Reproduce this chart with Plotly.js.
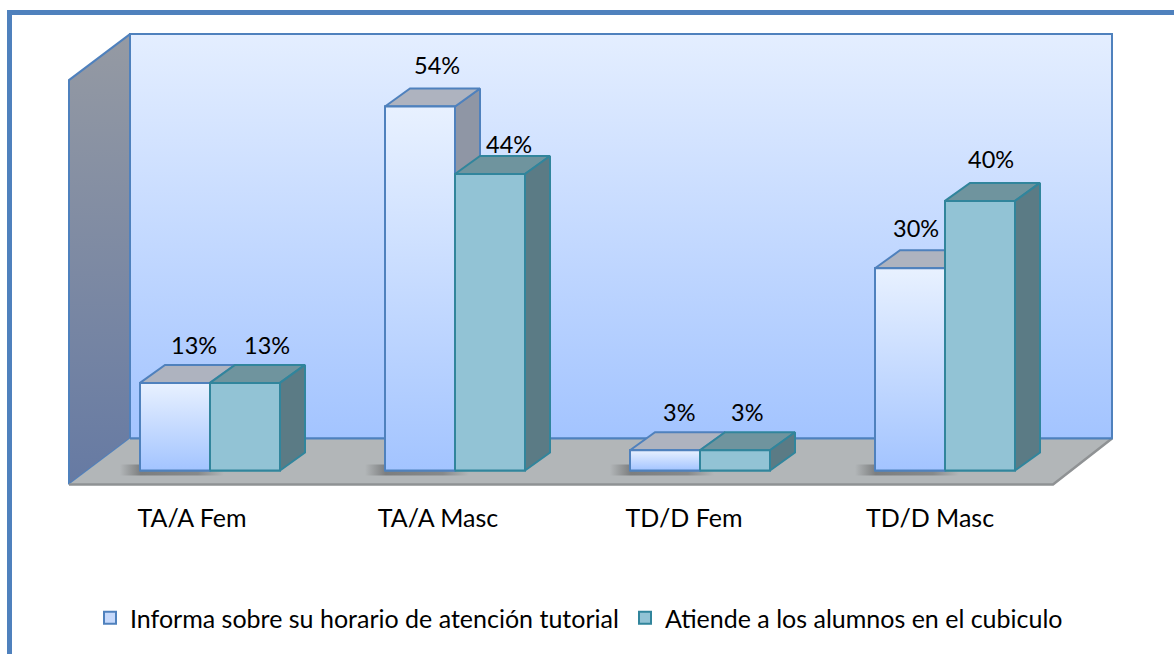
<!DOCTYPE html>
<html>
<head>
<meta charset="utf-8">
<script src="https://cdn.plot.ly/plotly-3.0.1.min.js"></script>
<style>html,body{margin:0;padding:0;background:#fff}#chart{width:1174px;height:654px}</style>
</head>
<body>
<div id="chart"></div>
<script>
const categories = ['TA/A Fem', 'TA/A Masc', 'TD/D Fem', 'TD/D Masc'];
const seriesNames = ['Informa sobre su horario de atención tutorial', 'Atiende a los alumnos en el cubiculo'];
const seriesA = [13, 54, 3, 30];
const seriesB = [13, 44, 3, 40];
const axisMax = 60;

// Layout constants (pixels of the page)
const W = 1174, H = 654, plotBottom = 501;
const unitY = 6.74;          // px per percent
const catFront = 246, cat0Front = 192, zeroFront = 484.5;   // front plane
const catBar = 245, cat0Bar = 210, zeroBar = 470.5;         // plane of the bars
const wallDx = 61 / catFront, wallDxR = 59 / catFront, wallDy = 46 / unitY;
const barW = 70 / catBar, depthX = 25 / catBar, depthY = 18 / unitY;

const frontX = [-cat0Front / catFront, (W - cat0Front) / catFront];
const frontY = [(zeroFront - plotBottom) / unitY, zeroFront / unitY];
const barX = [-cat0Bar / catBar, (W - cat0Bar) / catBar];
const barY = [(zeroBar - plotBottom) / unitY, zeroBar / unitY];

const blue = '#4f81bd', teal = '#31859c';
const FONT = 'Lato, Carlito, sans-serif';
const txtFont = {family: FONT, size: 25, color: '#000'};
const lblFont = {family: FONT, size: 23.5, color: '#000'};

function poly(xs, ys, axes, fill, line, width, grad) {
  const t = {type: 'scatter', mode: 'lines', x: xs.concat(xs[0]), y: ys.concat(ys[0]), fill: 'toself',
    xaxis: axes[0], yaxis: axes[1], showlegend: false, hoverinfo: 'skip',
    line: {color: line || 'rgba(0,0,0,0)', width: width === undefined ? 2 : width, shape: 'linear'}};
  if (grad) t.fillgradient = grad; else t.fillcolor = fill;
  return t;
}
const vgrad = (top, bottom) => ({type: 'vertical', colorscale: [[0, bottom], [1, top]]});

const traces = [];
const base = ['x', 'y'], mid = ['x2', 'y2'], top_ = ['x3', 'y3'];
const L = -0.5, R = categories.length - 0.5;

// walls and floor
traces.push(poly([L + wallDx, R + wallDxR, R + wallDxR, L + wallDx], [wallDy, wallDy, wallDy + axisMax, wallDy + axisMax], base, null, blue, 2, vgrad('#e4eeff', '#a3c4ff')));
traces.push(poly([L, L + wallDx, L + wallDx, L], [0, wallDy, wallDy + axisMax, axisMax], base, null, blue, 2, vgrad('#959aa3', '#667aa3')));
traces.push(poly([L, R, R + wallDxR, L + wallDx], [0, 0, wallDy, wallDy], base, '#b2b6b8', null, 0));
traces.push({type: 'scatter', mode: 'lines', x: [L, R, R + wallDxR], y: [0, 0, wallDy], xaxis: 'x', yaxis: 'y', showlegend: false, hoverinfo: 'skip', line: {color: '#8f9294', width: 2.5}});
traces.push({type: 'scatter', mode: 'lines', x: [L + wallDx, R + wallDxR], y: [wallDy, wallDy], xaxis: 'x', yaxis: 'y', showlegend: false, hoverinfo: 'skip', line: {color: blue, width: 2}});

// shadows + back faces of series A
categories.forEach((c, i) => {
  const x0 = i - barW, x1 = i, v = seriesA[i];
  const sx0 = x0 - 20 / catBar, sx1 = x1 + 14 / catBar;
  traces.push(poly([sx0, sx1, sx1, sx0], [-0.75, -0.75, 0.9, 0.9], mid, null, null, 0,
    {type: 'horizontal', colorscale: [[0, 'rgba(70,70,70,0)'], [0.2, 'rgba(70,70,70,0.5)'], [0.75, 'rgba(70,70,70,0.4)'], [1, 'rgba(70,70,70,0)']]}));
  traces.push(poly([x1, x1 + depthX, x1 + depthX, x1], [0, depthY, v + depthY, v], mid, '#8f96a5', blue));
  traces.push(poly([x0, x1, x1 + depthX, x0 + depthX], [v, v, v + depthY, v + depthY], mid, '#aeb3bf', blue));
});

// bars
traces.push({type: 'bar', name: seriesNames[0], x: categories.map((c, i) => i), y: seriesA, xaxis: 'x3', yaxis: 'y3',
  marker: {color: '#c6d9fb', line: {color: blue, width: 2}}, hoverinfo: 'y'});
traces.push({type: 'bar', name: seriesNames[1], x: categories.map((c, i) => i), y: seriesB, xaxis: 'x3', yaxis: 'y3',
  marker: {color: '#92c3d5', line: {color: teal, width: 2}}, hoverinfo: 'y'});

// gradient faces over series A, 3D faces of series B
categories.forEach((c, i) => {
  const x0 = i - barW, x1 = i, v = seriesA[i];
  traces.push(poly([x0, x1, x1, x0], [0, 0, v, v], top_, null, blue, 2, vgrad('#e8f1ff', '#a3c4ff')));
  const b0 = i, b1 = i + barW, w = seriesB[i];
  traces.push(poly([b0, b1, b1 + depthX, b0 + depthX], [w, w, w + depthY, w + depthY], top_, '#6f949e', teal));
  traces.push(poly([b1, b1 + depthX, b1 + depthX, b1], [0, depthY, w + depthY, w], top_, '#5b7b85', teal));
  traces.push(poly([b0, b1, b1, b0], [0, 0, w, w], top_, '#92c3d5', teal));
});

// data labels
const shiftA = [[19, 38], [17, 42], [14, 38], [6, 40]];
const shiftB = [[22, 38], [19, 30], [12, 38], [11, 42]];
const annotations = [];
categories.forEach((c, i) => {
  annotations.push({xref: 'x3', yref: 'y3', x: i - barW / 2, y: seriesA[i], text: seriesA[i] + '%', showarrow: false,
    xshift: shiftA[i][0], yshift: shiftA[i][1], font: lblFont, xanchor: 'center', yanchor: 'middle'});
  annotations.push({xref: 'x3', yref: 'y3', x: i + barW / 2, y: seriesB[i], text: seriesB[i] + '%', showarrow: false,
    xshift: shiftB[i][0], yshift: shiftB[i][1], font: lblFont, xanchor: 'center', yanchor: 'middle'});
});

const hidden = {visible: false, showgrid: false, zeroline: false, fixedrange: true};
const layout = {
  width: W, height: H, margin: {l: 0, r: 0, t: 0, b: H - plotBottom, pad: 0, autoexpand: false},
  paper_bgcolor: '#fff', plot_bgcolor: 'rgba(0,0,0,0)', font: txtFont,
  barmode: 'group', bargap: 1 - 140 / catBar, bargroupgap: 0,
  xaxis: {range: frontX, tickmode: 'array', tickvals: categories.map((c, i) => i), ticktext: categories,
    showgrid: false, zeroline: false, showline: false, ticks: '', tickfont: txtFont, fixedrange: true},
  yaxis: Object.assign({range: frontY}, hidden),
  xaxis2: Object.assign({range: barX, overlaying: 'x', anchor: 'y2'}, hidden),
  yaxis2: Object.assign({range: barY, overlaying: 'y', anchor: 'x2'}, hidden),
  xaxis3: Object.assign({range: barX, overlaying: 'x', anchor: 'y3'}, hidden),
  yaxis3: Object.assign({range: barY, overlaying: 'y', anchor: 'x3'}, hidden),
  annotations: annotations,
  showlegend: true,
  legend: {orientation: 'h', x: 90 / W, y: 1 - 595 / plotBottom, xanchor: 'left', yanchor: 'top',
    font: txtFont, bgcolor: 'rgba(0,0,0,0)', itemclick: false, itemdoubleclick: false, traceorder: 'normal',
    entrywidthmode: 'pixels', entrywidth: 490},
  shapes: [
    {type: 'line', xref: 'paper', yref: 'paper', x0: 9.5 / W, x1: 9.5 / W, y0: 1 - 10 / plotBottom, y1: 1 - 660 / plotBottom, line: {color: blue, width: 5}},
    {type: 'line', xref: 'paper', yref: 'paper', x0: 7 / W, x1: 1.01, y0: 1 - 12.5 / plotBottom, y1: 1 - 12.5 / plotBottom, line: {color: blue, width: 5}}
  ]
};
Plotly.newPlot('chart', traces, layout, {displayModeBar: false, responsive: false});
</script>
</body>
</html>
